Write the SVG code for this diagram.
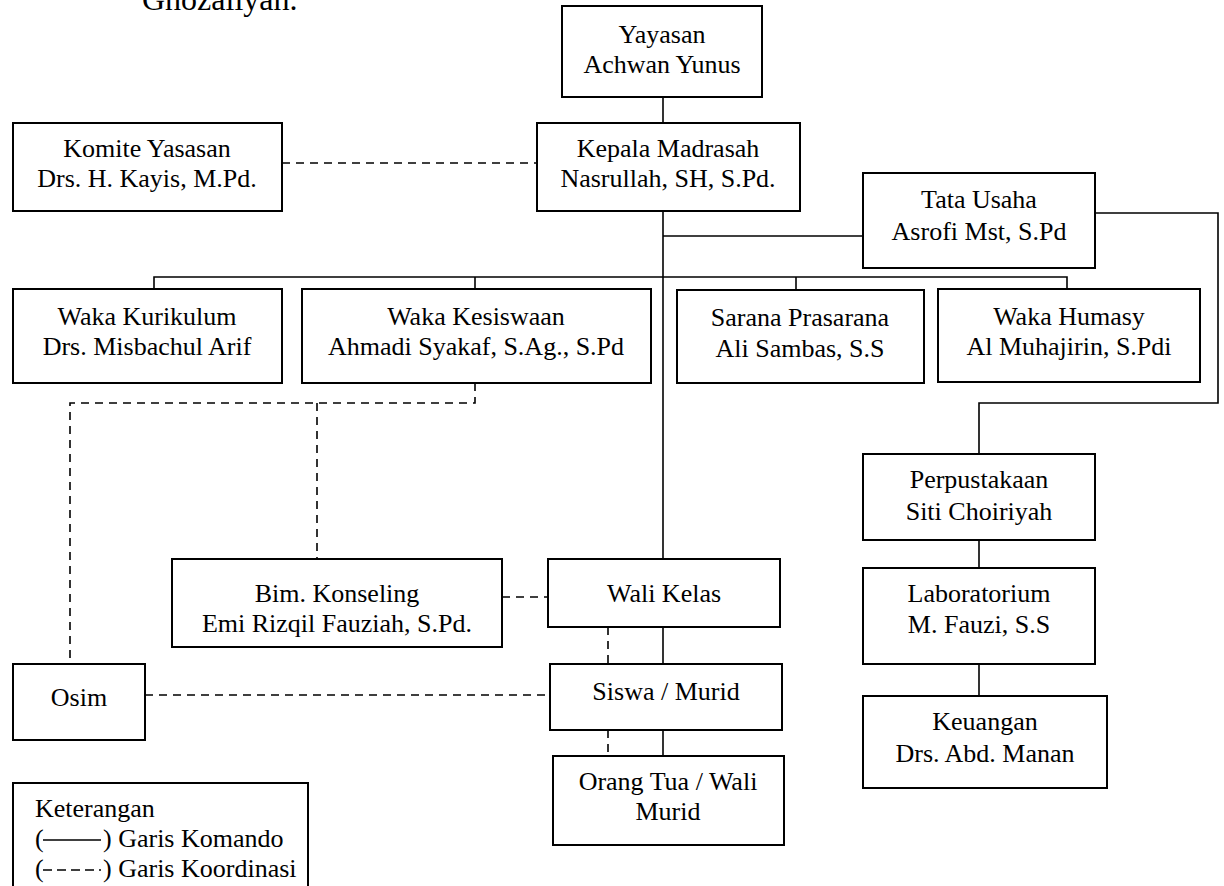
<svg xmlns="http://www.w3.org/2000/svg" width="1224" height="886" viewBox="0 0 1224 886">
<style>
  text { font-family: "Liberation Serif", "Times New Roman", serif; font-size: 26px; fill: #000; }
  .c { text-anchor: middle; }
  .box { fill: #fff; stroke: #000; stroke-width: 2; }
  .solid { fill: none; stroke: #000; stroke-width: 1.6; }
  .dash { fill: none; stroke: #000; stroke-width: 1.6; stroke-dasharray: 8 6; }
</style>
<rect width="1224" height="886" fill="#fff"/>
<text x="142" y="10" style="font-size:32px">Ghozaliyah.</text>

<g id="connectors">
  <path class="solid" d="M663 97 V123"/>
  <path class="solid" d="M663 211 V559"/>
  <path class="solid" d="M663 236 H863"/>
  <path class="solid" d="M154 289 V277 H1067 V289"/>
  <path class="solid" d="M475 277 V289"/>
  <path class="solid" d="M796 277 V290"/>
  <path class="solid" d="M1095 213 H1218 V403 H979 V454"/>
  <path class="solid" d="M979 540 V568"/>
  <path class="solid" d="M979 664 V696"/>
  <path class="solid" d="M663 627 V664"/>
  <path class="solid" d="M663 730 V756"/>
  <path class="dash" d="M282 163 H537"/>
  <path class="dash" d="M475 383 V403 H70 V664"/>
  <path class="dash" d="M317 403 V559"/>
  <path class="dash" d="M502 597 H548"/>
  <path class="dash" d="M608 627 V664"/>
  <path class="dash" d="M608 730 V756"/>
  <path class="dash" d="M145 695 H550"/>
</g>

<g id="yayasan">
  <rect class="box" x="562" y="6" width="200" height="91"/>
  <text class="c" x="662" y="43">Yayasan</text>
  <text class="c" x="662" y="73">Achwan Yunus</text>
</g>
<g id="kepala">
  <rect class="box" x="537" y="123" width="263" height="88"/>
  <text class="c" x="668" y="157">Kepala Madrasah</text>
  <text class="c" x="668" y="187">Nasrullah, SH, S.Pd.</text>
</g>
<g id="komite">
  <rect class="box" x="13" y="123" width="269" height="88"/>
  <text class="c" x="147" y="157">Komite Yasasan</text>
  <text class="c" x="147" y="187">Drs. H. Kayis, M.Pd.</text>
</g>
<g id="tata-usaha">
  <rect class="box" x="863" y="173" width="232" height="95"/>
  <text class="c" x="979" y="208">Tata Usaha</text>
  <text class="c" x="979" y="240">Asrofi Mst, S.Pd</text>
</g>
<g id="waka-kurikulum">
  <rect class="box" x="13" y="289" width="269" height="94"/>
  <text class="c" x="147" y="325">Waka Kurikulum</text>
  <text class="c" x="147" y="355">Drs. Misbachul Arif</text>
</g>
<g id="waka-kesiswaan">
  <rect class="box" x="302" y="289" width="349" height="94"/>
  <text class="c" x="476" y="325">Waka Kesiswaan</text>
  <text class="c" x="476" y="355">Ahmadi Syakaf, S.Ag., S.Pd</text>
</g>
<g id="sarana-prasarana">
  <rect class="box" x="677" y="290" width="247" height="93"/>
  <text class="c" x="800" y="326">Sarana Prasarana</text>
  <text class="c" x="800" y="357">Ali Sambas, S.S</text>
</g>
<g id="waka-humasy">
  <rect class="box" x="938" y="289" width="262" height="93"/>
  <text class="c" x="1069" y="325">Waka Humasy</text>
  <text class="c" x="1069" y="355">Al Muhajirin, S.Pdi</text>
</g>
<g id="perpustakaan">
  <rect class="box" x="863" y="454" width="232" height="86"/>
  <text class="c" x="979" y="488">Perpustakaan</text>
  <text class="c" x="979" y="520">Siti Choiriyah</text>
</g>
<g id="laboratorium">
  <rect class="box" x="863" y="568" width="232" height="96"/>
  <text class="c" x="979" y="602">Laboratorium</text>
  <text class="c" x="979" y="633">M. Fauzi, S.S</text>
</g>
<g id="keuangan">
  <rect class="box" x="863" y="696" width="244" height="92"/>
  <text class="c" x="985" y="730">Keuangan</text>
  <text class="c" x="985" y="762">Drs. Abd. Manan</text>
</g>
<g id="bim-konseling">
  <rect class="box" x="172" y="559" width="330" height="88"/>
  <text class="c" x="337" y="602">Bim. Konseling</text>
  <text class="c" x="337" y="632">Emi Rizqil Fauziah, S.Pd.</text>
</g>
<g id="wali-kelas">
  <rect class="box" x="548" y="559" width="232" height="68"/>
  <text class="c" x="664" y="602">Wali Kelas</text>
</g>
<g id="siswa">
  <rect class="box" x="550" y="664" width="232" height="66"/>
  <text class="c" x="666" y="700">Siswa / Murid</text>
</g>
<g id="orang-tua">
  <rect class="box" x="553" y="756" width="231" height="89"/>
  <text class="c" x="668" y="790">Orang Tua / Wali</text>
  <text class="c" x="668" y="820">Murid</text>
</g>
<g id="osim">
  <rect class="box" x="13" y="664" width="132" height="76"/>
  <text class="c" x="79" y="706">Osim</text>
</g>
<g id="legend">
  <rect class="box" x="13" y="783" width="295" height="120"/>
  <text x="35" y="817">Keterangan</text>
  <text x="35" y="847">(</text>
  <line class="solid" x1="43" y1="840" x2="101" y2="840"/>
  <text x="103" y="847">) Garis Komando</text>
  <text x="35" y="877">(</text>
  <line class="dash" x1="43" y1="870" x2="101" y2="870" style="stroke-dasharray:9 5"/>
  <text x="103" y="877">) Garis Koordinasi</text>
</g>
</svg>
